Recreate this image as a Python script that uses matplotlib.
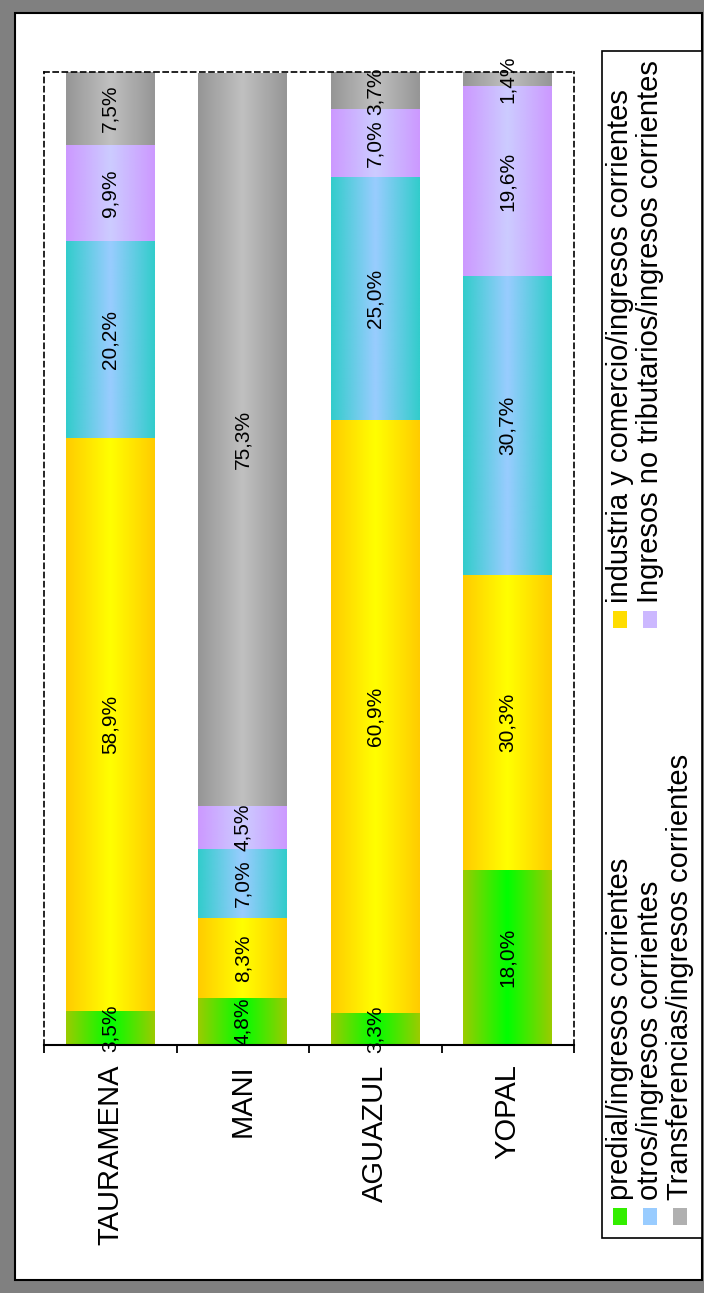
import numpy as np
import matplotlib
matplotlib.use('Agg')
import matplotlib.pyplot as plt
from matplotlib.patches import Rectangle

plt.rcParams['font.family'] = ['Liberation Sans', 'DejaVu Sans']

# data (shares of current income, %)
municipios = ['TAURAMENA', 'MANI', 'AGUAZUL', 'YOPAL']
series = ['predial/ingresos corrientes',
          'industria y comercio/ingresos corrientes',
          'otros/ingresos corrientes',
          'Ingresos no tributarios/ingresos corrientes',
          'Transferencias/ingresos corrientes']
predial = [3.5, 4.8, 3.3, 18.0]
industria = [58.9, 8.3, 60.9, 30.3]
otros = [20.2, 7.0, 25.0, 30.7]
no_tributarios = [9.9, 4.5, 7.0, 19.6]
transferencias = [7.5, 75.3, 3.7, 1.4]

# gradient colours: (edge, centre) per series
edge_colors = ['#99cc00', '#ffcc00', '#33cccc', '#cc99ff', '#969696']
center_colors = ['#00ff00', '#ffff00', '#99ccff', '#ccccff', '#c0c0c0']
legend_colors = ['#33ee00', '#ffdd00', '#99ccff', '#ccb8ff', '#b0b0b0']

W, H = 704, 1293
fig = plt.figure(figsize=(W / 100, H / 100), dpi=100, facecolor='#808080')


def fx(px):
    return px / W


def fy(py):
    return 1 - py / H


# white panel with black border
fig.add_artist(Rectangle((fx(15), fy(1280)), fx(702) - fx(15), fy(13) - fy(1280),
                         transform=fig.transFigure, facecolor='white',
                         edgecolor='black', lw=1.5, zorder=-5))

ax = fig.add_axes([fx(44), fy(1045), fx(574) - fx(44), fy(72) - fy(1045)])
ax.patch.set_alpha(0)


def gradient(c_edge, c_center, n=64):
    e = np.array(matplotlib.colors.to_rgb(c_edge))
    c = np.array(matplotlib.colors.to_rgb(c_center))
    t = np.linspace(0, 1, n)
    w = 1 - np.abs(2 * t - 1)
    return (e[None, :] * (1 - w[:, None]) + c[None, :] * w[:, None])[None, :, :]


values = [predial, industria, otros, no_tributarios, transferencias]
x = np.arange(len(municipios))
bar_w = 0.67
bottom = np.zeros(len(municipios))
for k, vals in enumerate(values):
    bars = ax.bar(x, vals, bar_w, bottom=bottom, color=edge_colors[k], lw=0, zorder=1)
    img = gradient(edge_colors[k], center_colors[k])
    for b, v in zip(bars, vals):
        x0, y0 = b.get_x(), b.get_y()
        ax.imshow(img, extent=(x0, x0 + b.get_width(), y0, y0 + b.get_height()),
                  aspect='auto', interpolation='bilinear', zorder=2)
        ax.text(x0 + b.get_width() / 2, y0 + v / 2, f'{v:.1f}%'.replace('.', ','),
                rotation=90, ha='center', va='center', fontsize=15, zorder=4)
    bottom += np.array(vals)

ax.set_xlim(-0.5, len(municipios) - 0.5)
ax.set_ylim(0, 100)
ax.set_yticks([])
ax.set_xticks(x)
ax.set_xticklabels(municipios, rotation=90, fontsize=21)
ax.set_xticks(np.arange(-0.5, len(municipios)), minor=True)
ax.tick_params(axis='x', which='major', length=0, pad=14)
ax.tick_params(axis='x', which='minor', length=6, width=1.3, direction='out')

for s in ['top', 'left', 'right']:
    ax.spines[s].set_linestyle((0, (3, 2.5)))
    ax.spines[s].set_linewidth(1.2)
ax.spines['bottom'].set_linewidth(1.5)
ax.spines['bottom'].set_zorder(5)

# legend (rotated, drawn by hand)
fig.add_artist(Rectangle((fx(602), fy(1238)), fx(702) - fx(602), fy(51) - fy(1238),
                         transform=fig.transFigure, facecolor='white',
                         edgecolor='black', lw=1.2, zorder=3))
legend_slots = [(620, 1200), (620, 603), (650, 1200), (650, 603), (680, 1200)]
for k, (cx, ty) in enumerate(legend_slots):
    fig.add_artist(Rectangle((fx(cx - 7), fy(ty + 25)), fx(14), fy(0) - fy(17),
                             transform=fig.transFigure, facecolor=legend_colors[k],
                             lw=0, zorder=4))
    fig.text(fx(cx), fy(ty), series[k], rotation=90, ha='center', va='bottom',
             fontsize=21, zorder=5)

fig.savefig('out.png', dpi=100, facecolor=fig.get_facecolor())
